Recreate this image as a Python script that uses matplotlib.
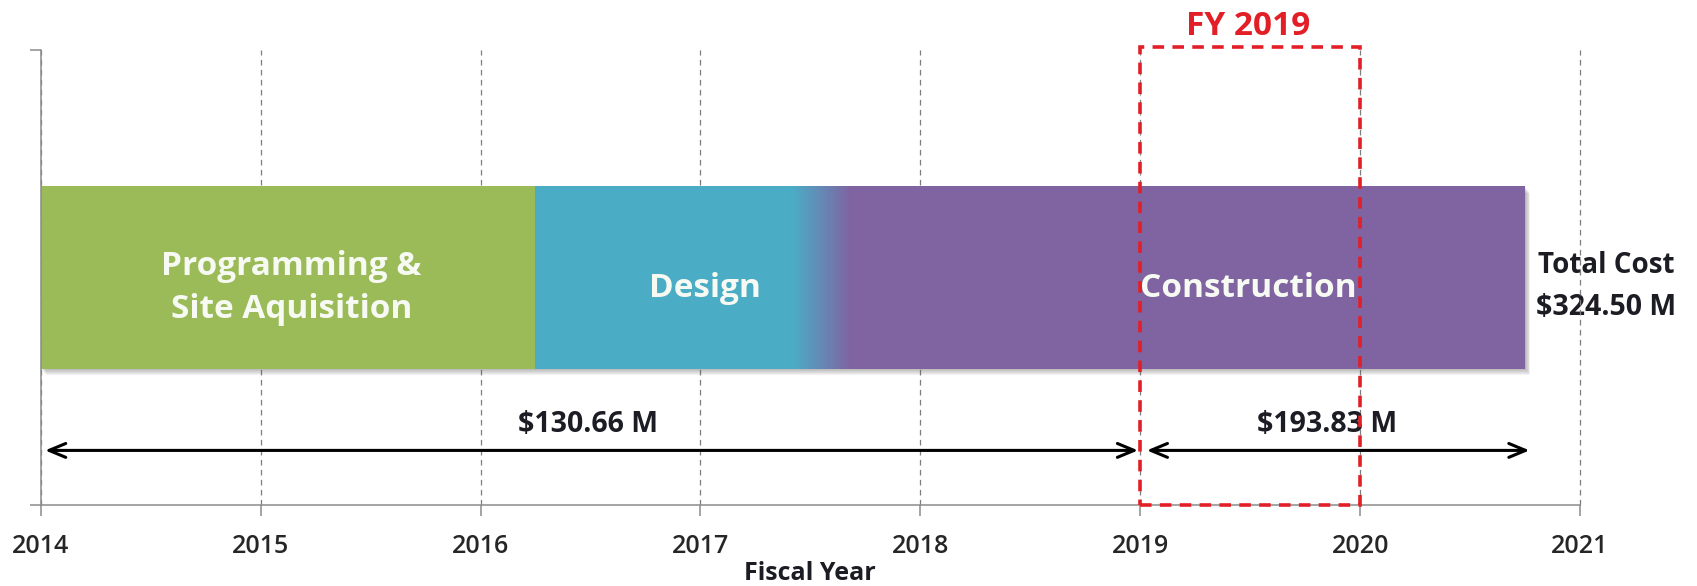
import numpy as np
import matplotlib
matplotlib.use("Agg")
import matplotlib.pyplot as plt
from matplotlib.patches import Rectangle
from matplotlib.colors import to_rgb
import matplotlib.transforms as mtransforms

# ---- data -------------------------------------------------------------
years = [2014, 2015, 2016, 2017, 2018, 2019, 2020, 2021]

phases = ["Programming &\nSite Aquisition", "Design", "Construction"]
phase_start = [2014.0, 2016.25, 2017.55]
phase_end = [2016.25, 2017.55, 2020.75]
phase_colors = ["#9BBB59", "#4BACC6", "#8064A2"]
phase_label_x = [2015.14, 2017.02, 2019.49]
blend_width = 0.26          # years over which Design fades into Construction

cost_labels = ["$130.66 M", "$193.83 M"]
cost_start = [2014.02, 2019.03]
cost_end = [2018.99, 2020.77]
cost_label_x = [2016.49, 2019.85]

total_title = "Total Cost"
total_value = "$324.50 M"
total_x = 2021.12

highlight_year = 2019
highlight_label = "FY 2019"

# ---- style ------------------------------------------------------------
FONT = ["Open Sans", "DejaVu Sans"]
plt.rcParams["font.family"] = FONT
AXIS_GREY = "#8C8C8C"
RED = "#E21F26"
DARK = "#1C1C24"
LABEL_WHITE = "#F6FAF2"

BAR_Y0, BAR_H = 0.30, 0.40
ARROW_Y = 0.12

fig = plt.figure(figsize=(16.97, 5.86), dpi=100)
ax = fig.add_axes([0.02398, 0.1382, 0.9071, 0.7765])
ax.set_xlim(years[0], years[-1])
ax.set_ylim(0, 1)

# vertical year gridlines
ax.set_xticks(years)
ax.grid(axis="x", color="#7F7F7F", linestyle=(0, (4.5, 3.5)), linewidth=0.9, zorder=1)
ax.grid(axis="y", visible=False)
ax.set_axisbelow(True)
for gl in ax.get_xgridlines():
    gl.set_clip_on(False)

# spines and ticks
for side in ("top", "right"):
    ax.spines[side].set_visible(False)
for side in ("left", "bottom"):
    ax.spines[side].set_color(AXIS_GREY)
    ax.spines[side].set_linewidth(1.1)
ax.set_yticks([0, 1])
ax.set_yticklabels([])
ax.tick_params(axis="y", direction="out", length=8, width=1.1, color=AXIS_GREY)
ax.tick_params(axis="x", direction="out", length=8, width=1.1, color=AXIS_GREY,
               pad=13, labelsize=18, labelcolor="#262626")
for lbl in ax.get_xticklabels():
    lbl.set_fontweight("semibold")
ax.set_xlabel("Fiscal Year", fontsize=18, fontweight="bold", color=DARK, labelpad=1)

# soft drop shadow under the whole phase bar
total_left, total_right = phase_start[0], phase_end[-1]
for k in range(1, 8):
    shadow_tr = mtransforms.offset_copy(ax.transData, fig=fig, x=k * 0.7, y=-k * 0.9, units="dots")
    ax.add_patch(Rectangle((total_left, BAR_Y0), total_right - total_left, BAR_H,
                           transform=shadow_tr, facecolor="#505050", edgecolor="none",
                           alpha=0.07, zorder=1.5))

# phase segments
ax.barh(BAR_Y0 + BAR_H / 2, np.subtract(phase_end, phase_start), left=phase_start,
        height=BAR_H, color=phase_colors, edgecolor="none", zorder=2)

# Design -> Construction colour blend
b0 = phase_end[1] - blend_width / 2
b1 = phase_end[1] + blend_width / 2
t = np.linspace(0, 1, 200)[None, :, None]
c_from = np.array(to_rgb(phase_colors[1]))[None, None, :]
c_to = np.array(to_rgb(phase_colors[2]))[None, None, :]
ax.imshow(c_from * (1 - t) + c_to * t, extent=[b0, b1, BAR_Y0, BAR_Y0 + BAR_H],
          aspect="auto", interpolation="bilinear", zorder=2.1)
ax.set_xlim(years[0], years[-1])
ax.set_ylim(0, 1)

# phase names
ax.text(phase_label_x[0], 0.411, phases[0], ha="center", va="baseline", fontsize=24,
        fontweight="bold", color=LABEL_WHITE, linespacing=1.4, zorder=3)
for name, x in zip(phases[1:], phase_label_x[1:]):
    ax.text(x, 0.458, name, ha="center", va="baseline", fontsize=24,
            fontweight="bold", color=LABEL_WHITE, zorder=3)

# cost span arrows and labels
for label, x0, x1, lx in zip(cost_labels, cost_start, cost_end, cost_label_x):
    ax.annotate("", xy=(x1, ARROW_Y), xytext=(x0, ARROW_Y),
                arrowprops=dict(arrowstyle="<->,head_length=0.6,head_width=0.25",
                                color="black", lw=2.2, shrinkA=0, shrinkB=0,
                                mutation_scale=20), zorder=4)
    ax.text(lx, 0.160, label, ha="center", va="baseline", fontsize=20.5,
            fontweight="bold", color=DARK, zorder=4)

# total cost, right of the bar
ax.text(total_x, 0.510, total_title, ha="center", va="baseline", fontsize=20,
        fontweight="bold", color=DARK, clip_on=False, zorder=0.5)
ax.text(total_x, 0.417, total_value, ha="center", va="baseline", fontsize=20.5,
        fontweight="bold", color=DARK, clip_on=False, zorder=0.5)

# highlighted fiscal year box
ax.add_patch(Rectangle((highlight_year, 0), 1, 1.007, fill=False, edgecolor=RED,
                       linewidth=2.6, linestyle=(0, (3.2, 2.3)), clip_on=False, zorder=5))
ax.text(highlight_year + 0.49, 1.033, highlight_label, ha="center", va="baseline",
        fontsize=24, fontweight="bold", color=RED, clip_on=False, zorder=5)

fig.savefig("out.png", dpi=100)
